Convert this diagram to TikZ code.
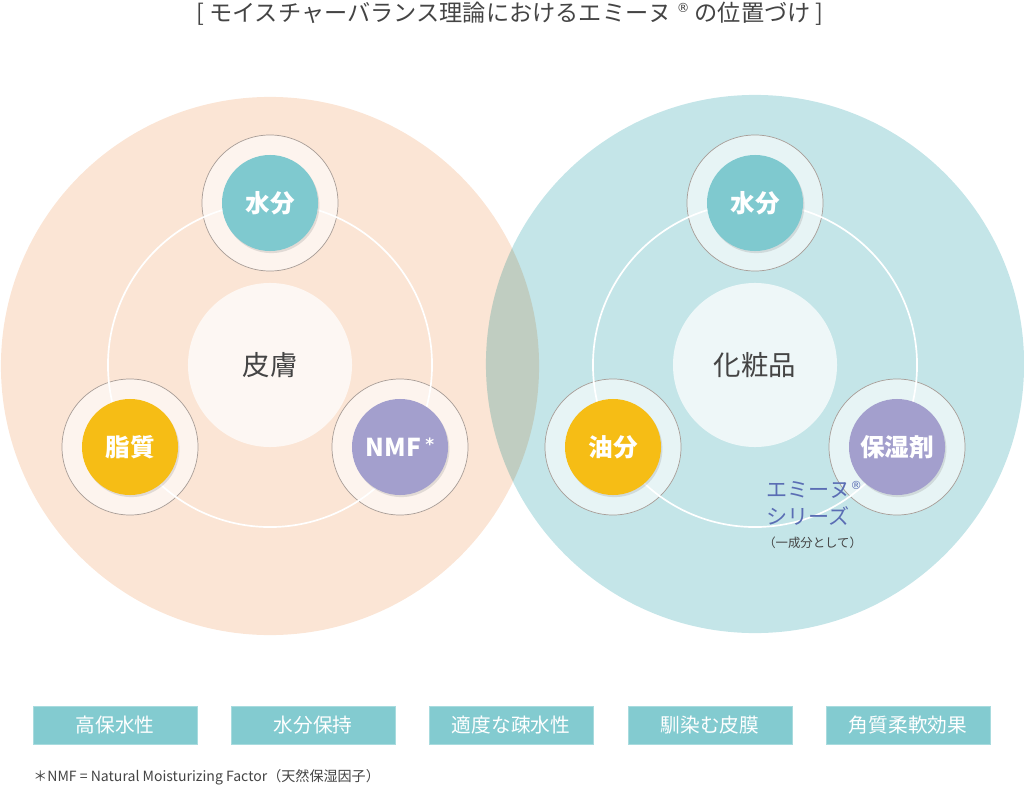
\documentclass[tikz,border=0pt]{standalone}
\usepackage{fontspec}
\setmainfont{Noto Sans CJK JP}
\newfontfamily\symfont{DejaVu Sans}
\usepackage{xcolor}
\usepackage{tikz}
\usetikzlibrary{positioning,shadows}
\definecolor{SkinPeach}{HTML}{FBE5D5}
\definecolor{CosmeTeal}{HTML}{C4E5E8}
\definecolor{WaterTeal}{HTML}{7FC9CF}
\definecolor{OilGold}{HTML}{F6BD15}
\definecolor{NmfLilac}{HTML}{A39FCD}
\definecolor{RimGray}{HTML}{A89D97}
\definecolor{TextDark}{HTML}{444444}
\definecolor{EmineBlue}{HTML}{5A6DB4}
\definecolor{BoxTeal}{HTML}{83CBD0}
\newcommand{\regmark}[1]{\raisebox{0.4em}{\symfont\fontsize{#1}{#1}\selectfont ®}}

\begin{document}
\begin{tikzpicture}[x=0.025cm,y=-0.025cm,
          every node/.style={inner sep=0pt},
          big/.style={circle,minimum size=13.45cm},
          rim/.style={circle,minimum size=3.4cm,draw=RimGray,line width=0.5pt,
            fill=white,fill opacity=0.6},
          dot/.style={circle,minimum size=2.4cm,text=white,font=\fontsize{17.5}{20}\selectfont\bfseries,
            drop shadow={shadow xshift=1pt,shadow yshift=-1.5pt,opacity=0.22}},
          core/.style={circle,minimum size=4.1cm,fill=white,fill opacity=0.72,text opacity=1,
            text=TextDark,font=\fontsize{19.5}{22}\selectfont},
          ring/.style={draw=white,line width=1.2pt},
          tag/.style={minimum width=4.1cm,minimum height=0.95cm,fill=BoxTeal,
            draw=BoxTeal!70!white,line width=0.4pt,text=white,font=\fontsize{14}{16}\selectfont}]
        \useasboundingbox (0,0) rectangle (1024,788);
        % title
        \node[text=TextDark,font=\fontsize{16.5}{19}\selectfont] (title) at (510,14)
        {[ モイスチャーバランス理論におけるエミーヌ \regmark{9} の位置づけ ]};
        % two large circles
        \begin{scope}[blend mode=multiply]
          \node[big,fill=SkinPeach] (skin) at (270,366) {};
          \node[big,fill=CosmeTeal] (cosme) at (755,364) {};
        \end{scope}
        % skin side
        \node[rim] (r1) at (270,203) {};
        \node[rim] (r2) at (130,447) {};
        \node[rim] (r3) at (400,447) {};
        \draw[ring] (270,365) circle [radius=4.05cm];
        \node[core] (c1) at (270,365) {皮膚};
        \node[dot,fill=WaterTeal] (w1) at (r1) {水分};
        \node[dot,fill=OilGold] (o1) at (r2) {脂質};
        \node[dot,fill=NmfLilac] (n1) at (r3) {NMF\,\raisebox{0.25em}{\symfont\fontsize{12}{12}\selectfont *}};
        % cosmetics side
        \node[rim] (r4) at (755,203) {};
        \node[rim] (r5) at (613,447) {};
        \node[rim] (r6) at (897,447) {};
        \draw[ring] (755,365) circle [radius=4.05cm];
        \node[core] (c2) at (755,365) {化粧品};
        \node[dot,fill=WaterTeal] (w2) at (r4) {水分};
        \node[dot,fill=OilGold] (o2) at (r5) {油分};
        \node[dot,fill=NmfLilac] (n2) at (r6) {保湿剤};
        % emine series note
        \node[anchor=west,text=EmineBlue,align=left,font=\fontsize{15}{19}\selectfont]
        (emine) at (766,503) {エミーヌ\regmark{8}\\シリーズ};
        \node[anchor=west,text=TextDark,font=\fontsize{8.8}{10}\selectfont]
        (part) at (763,543) {（一成分として）};
        % property boxes
        \node[tag] (t1) at (115,725) {高保水性};
        \node[tag] (t2) at (313,725) {水分保持};
        \node[tag] (t3) at (511,725) {適度な疎水性};
        \node[tag] (t4) at (710,725) {馴染む皮膜};
        \node[tag] (t5) at (908,725) {角質柔軟効果};
        % footnote
        \node[anchor=west,text=TextDark,font=\fontsize{10}{12}\selectfont]
        (note) at (33,777) {＊NMF = Natural Moisturizing Factor（天然保湿因子）};
      \end{tikzpicture}
\end{document}
